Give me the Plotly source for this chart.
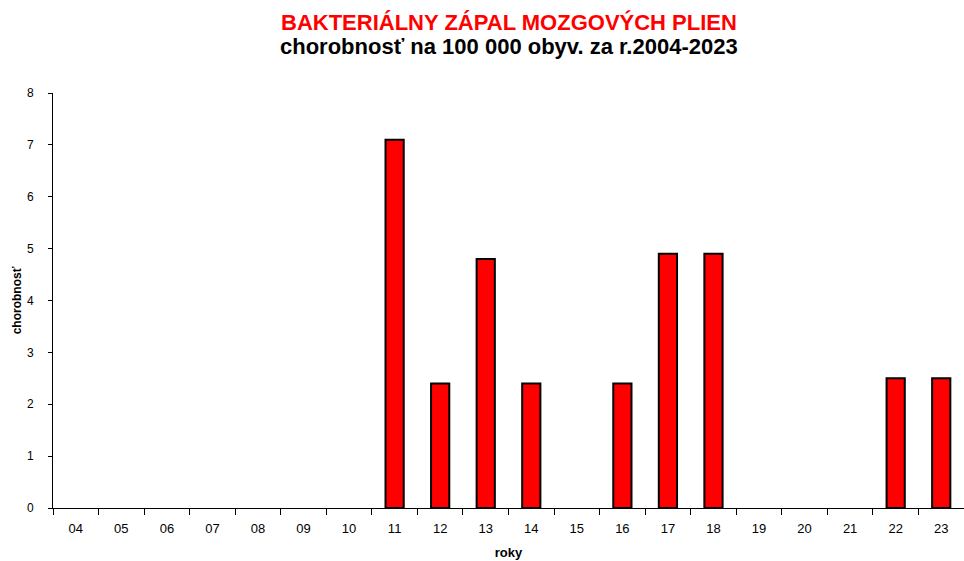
import plotly.graph_objects as go

# Incidence per 100 000 inhabitants, years 2004-2023
years = ["04", "05", "06", "07", "08", "09", "10", "11", "12", "13",
         "14", "15", "16", "17", "18", "19", "20", "21", "22", "23"]
incidence = [0, 0, 0, 0, 0, 0, 0, 7.1, 2.4, 4.8,
             2.4, 0, 2.4, 4.9, 4.9, 0, 0, 0, 2.5, 2.5]

title_main = "BAKTERIÁLNY ZÁPAL MOZGOVÝCH PLIEN"
title_sub = "chorobnosť na 100 000 obyv. za r.2004-2023"

font_family = "Liberation Sans, Arial, sans-serif"

# empty years get no outline so no stub is drawn on the baseline
outline_widths = [2 if v > 0 else 0 for v in incidence]

fig = go.Figure(
    go.Bar(
        x=years,
        y=incidence,
        marker=dict(color="#ff0000", line=dict(color="#000000", width=outline_widths)),
    )
)

plot_top, plot_bottom = 93, 508
plot_h = plot_bottom - plot_top


def paper_y(px):
    return (plot_bottom - px) / plot_h


fig.update_layout(
    width=964,
    height=561,
    margin=dict(l=53, r=0, t=plot_top, b=561 - plot_bottom),
    paper_bgcolor="white",
    plot_bgcolor="white",
    bargap=0.6,
    showlegend=False,
    font=dict(family=font_family, color="#000000"),
    annotations=[
        dict(text=f"<b>{title_main}</b>", x=0.5, xref="paper", y=paper_y(22), yref="paper",
             xanchor="center", yanchor="middle", showarrow=False,
             font=dict(family=font_family, size=22, color="#ff0000")),
        dict(text=f"<b>{title_sub}</b>", x=0.5, xref="paper", y=paper_y(47), yref="paper",
             xanchor="center", yanchor="middle", showarrow=False,
             font=dict(family=font_family, size=22, color="#000000")),
    ],
    xaxis=dict(
        type="category",
        showline=True,
        linecolor="#000000",
        linewidth=1,
        ticks="outside",
        tickson="boundaries",
        ticklen=6,
        tickcolor="#000000",
        showgrid=False,
        ticklabelstandoff=8,
        tickfont=dict(size=13, color="#000000"),
        title=dict(text="<b>roky</b>", font=dict(size=13), standoff=13),
    ),
    yaxis=dict(
        range=[0, 8],
        dtick=1,
        showline=True,
        linecolor="#000000",
        linewidth=1,
        ticks="outside",
        ticklen=4,
        tickcolor="#000000",
        showgrid=False,
        zeroline=False,
        ticklabelstandoff=12,
        tickfont=dict(size=12, color="#000000"),
        title=dict(text="<b>chorobnosť</b>", font=dict(size=12), standoff=2),
    ),
)

fig.write_html("out.html")
